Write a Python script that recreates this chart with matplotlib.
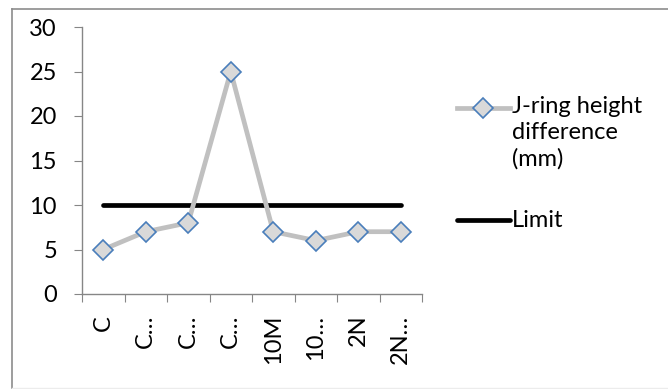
import matplotlib.pyplot as plt
from matplotlib.lines import Line2D

plt.rcParams['font.family'] = ['Lato', 'DejaVu Sans']

categories = ['C', 'C\u2026', 'C\u2026', 'C\u2026', '10M', '10\u2026', '2N', '2N\u2026']
height_diff = [5, 7, 8, 25, 7, 6, 7, 7]
limit = [10, 10, 10, 10, 10, 10, 10, 10]
series_names = ['J-ring height\ndifference\n(mm)', 'Limit']

fig = plt.figure(figsize=(6.68, 3.89), dpi=100)
ax = fig.add_axes([82 / 668, 1 - 294 / 389, 340 / 668, 267 / 389])

x = list(range(len(categories)))
ax.plot(x, limit, color='black', lw=3.4, solid_capstyle='round', zorder=2)
ax.plot(x, height_diff, color='#c0c0c0', lw=3.4, marker='D', ms=10,
        mfc='#d9d9d9', mec='#4a7ebb', mew=1.2, zorder=3)

ax.set_xlim(-0.5, len(categories) - 0.5)
ax.set_ylim(0, 30)
ax.set_yticks(range(0, 31, 5))
ax.set_xticks([i + 0.5 for i in range(-1, len(categories))], minor=False)
ax.set_xticklabels([])
ax.set_xticks(x, minor=True)
ax.set_xticklabels(categories, minor=True, rotation=90)

for side in ('top', 'right'):
    ax.spines[side].set_visible(False)
for side in ('left', 'bottom'):
    ax.spines[side].set_color('#868686')
    ax.spines[side].set_linewidth(1)
ax.tick_params(axis='y', direction='out', length=6, color='#868686',
               labelsize=17, pad=12)
ax.tick_params(axis='x', which='major', direction='out', length=6,
               color='#868686')
ax.tick_params(axis='x', which='minor', length=0, labelsize=17, pad=15)


# legend drawn by hand so the marker sits on the first text line
def fx(px):
    return px / 668


def fy(py):
    return 1 - py / 389


fig.add_artist(Line2D([fx(457), fx(510)], [fy(108), fy(108)], color='#c0c0c0',
                      lw=3.4, transform=fig.transFigure))
fig.add_artist(Line2D([fx(483.5)], [fy(108)], marker='D', ms=10, mfc='#d9d9d9',
                      mec='#4a7ebb', mew=1.2, transform=fig.transFigure))
fig.text(fx(512), fy(96), series_names[0], fontsize=17, va='top',
         linespacing=1.3, transform=fig.transFigure)
fig.add_artist(Line2D([fx(457), fx(510)], [fy(220), fy(220)], color='black',
                      lw=3.4, solid_capstyle='round', transform=fig.transFigure))
fig.text(fx(512), fy(220), series_names[1], fontsize=17, va='center',
         transform=fig.transFigure)

# chart frame: solid top and left, faint bottom
fig.add_artist(Line2D([fx(12), fx(668)], [fy(8.5), fy(8.5)], color='#8c8c8c',
                      lw=1.2, transform=fig.transFigure))
fig.add_artist(Line2D([fx(12), fx(12)], [fy(8.5), fy(388)], color='#8c8c8c',
                      lw=1.2, transform=fig.transFigure))
fig.add_artist(Line2D([fx(12), fx(668)], [fy(388), fy(388)], color='#ececec',
                      lw=1, transform=fig.transFigure))

fig.savefig('out.png', dpi=100)
